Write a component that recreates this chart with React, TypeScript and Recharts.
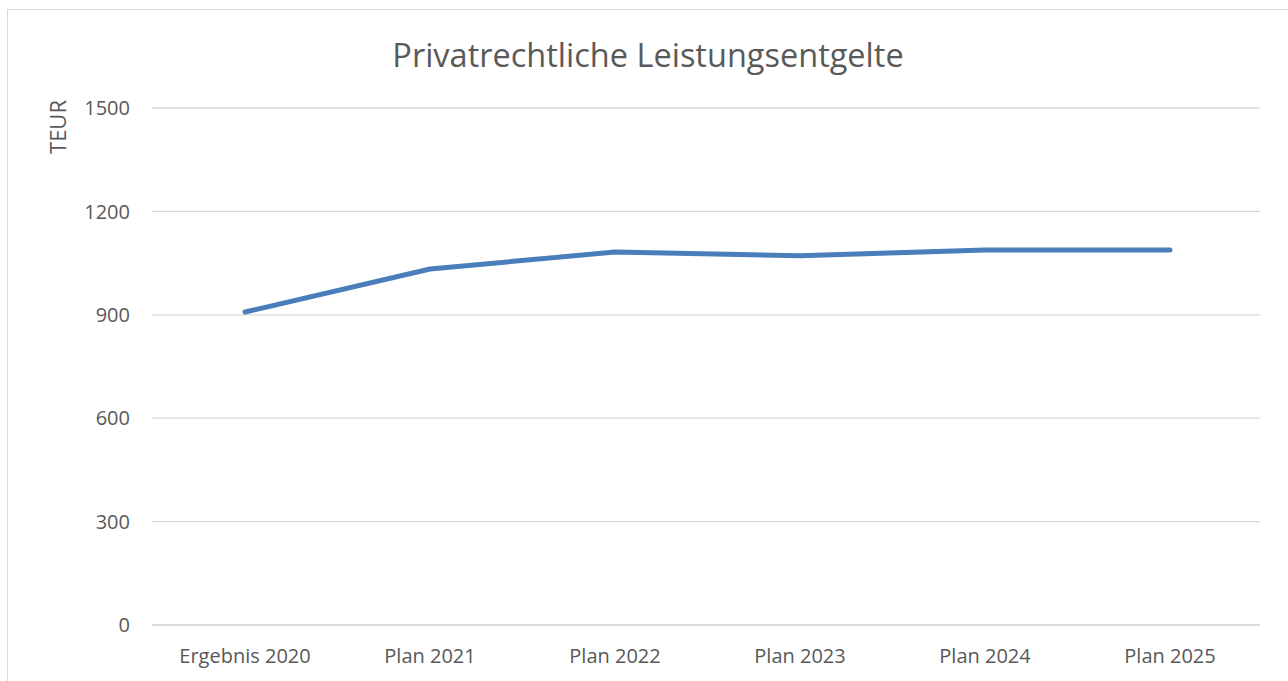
import { LineChart, Line, XAxis, YAxis, CartesianGrid } from 'recharts';

const categories = ['Ergebnis 2020', 'Plan 2021', 'Plan 2022', 'Plan 2023', 'Plan 2024', 'Plan 2025'];
const values = [908, 1033, 1082, 1071, 1088, 1088];
const yTicks = [0, 300, 600, 900, 1200, 1500];

const rows = categories.map((label, i) => ({ label, value: values[i] }));

const FONT = '"Open Sans", Calibri, sans-serif';
const TEXT = '#595959';

export default function App() {
  return (
    <div style={{ position: 'absolute', left: 0, top: 0, width: 1288, height: 681, overflow: 'hidden', background: '#fff' }}>
      <div
        style={{
          position: 'absolute',
          left: 0,
          top: 32,
          width: 1296,
          textAlign: 'center',
          fontFamily: FONT,
          fontSize: 32.5,
          color: TEXT,
        }}
      >
        Privatrechtliche Leistungsentgelte
      </div>
      <div style={{ position: 'absolute', left: 0, top: 0 }}>
        <LineChart width={1288} height={681} data={rows} margin={{ top: 108, right: 28, bottom: 26, left: 92 }}>
          <CartesianGrid stroke="#d9d9d9" strokeWidth={1.3} vertical={false} />
          <XAxis
            dataKey="label"
            axisLine={{ stroke: '#d9d9d9', strokeWidth: 1.3 }}
            tickLine={false}
            tickSize={0}
            tickMargin={24}
            height={30}
            padding={{ left: 93, right: 90 }}
            tick={{ fontFamily: FONT, fontSize: 20, fill: TEXT }}
          />
          <YAxis
            domain={[0, 1500]}
            ticks={yTicks}
            axisLine={false}
            tickLine={false}
            tickSize={0}
            tickMargin={22}
            width={60}
            tick={{ fontFamily: FONT, fontSize: 20, fill: TEXT }}
            label={{
              content: () => (
                <text
                  x={57}
                  y={127}
                  transform="rotate(-90 57 127)"
                  textAnchor="middle"
                  dominantBaseline="central"
                  fontFamily={FONT}
                  fontSize={22}
                  fill={TEXT}
                >
                  TEUR
                </text>
              ),
            }}
          />
          <Line
            type="linear"
            dataKey="value"
            stroke="#4a7ebb"
            strokeWidth={5}
            strokeLinecap="round"
            strokeLinejoin="round"
            dot={false}
            isAnimationActive={false}
          />
        </LineChart>
      </div>
      <div
        style={{
          position: 'absolute',
          left: 7,
          top: 9,
          width: 1400,
          height: 800,
          border: '1px solid #d9d9d9',
          pointerEvents: 'none',
        }}
      />
    </div>
  );
}
